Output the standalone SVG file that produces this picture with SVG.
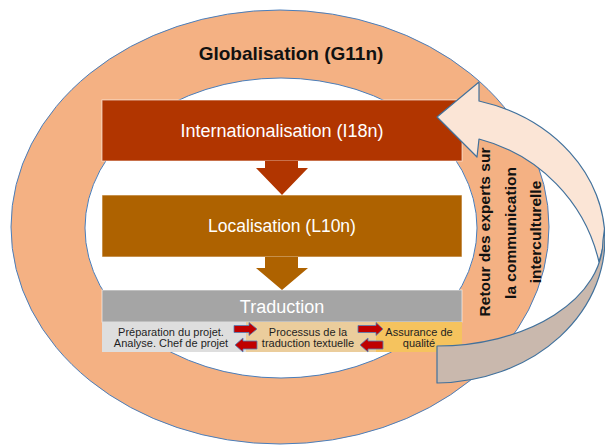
<svg xmlns="http://www.w3.org/2000/svg" width="605" height="445" viewBox="0 0 605 445">
<defs>
<style>
.ring{fill:#F4B183;stroke:#4A7EBB;stroke-width:1}
.hole{fill:#FFFFFF;stroke:#4A7EBB;stroke-width:1}
.box{stroke:#FFFFFF;stroke-opacity:0.6;stroke-width:1}
.wt{font-family:"Liberation Sans",Arial,sans-serif;fill:#FFFFFF;text-anchor:middle}
.st{font-family:"Liberation Sans",Arial,sans-serif;font-size:11px;fill:#1E1E1E;text-anchor:middle}
.bt{font-family:"Liberation Sans",Arial,sans-serif;font-weight:bold;fill:#111111;text-anchor:middle}
.red{fill:#C00000;stroke:#4F81BD;stroke-width:0.8}
.fb{stroke:#41719C;stroke-width:1.2;stroke-linejoin:round}
</style>
</defs>
<rect width="605" height="445" fill="#FFFFFF"/>
<g id="globalisation">
<ellipse class="ring" cx="280" cy="227" rx="269" ry="217"/>
<ellipse class="hole" cx="281" cy="228" rx="196" ry="150"/>
<text class="bt" x="291" y="60" font-size="19">Globalisation (G11n)</text>
</g>
<g id="internationalisation">
<rect class="box" x="102" y="100" width="360" height="61" fill="#B13500"/>
<text class="wt" x="282" y="136.5" font-size="18">Internationalisation (I18n)</text>
</g>
<g id="localisation">
<rect class="box" x="102" y="195" width="360" height="62" fill="#AE6200"/>
<text class="wt" x="282" y="232" font-size="17.5">Localisation (L10n)</text>
</g>
<g id="traduction">
<rect class="box" x="102" y="290" width="360" height="32" fill="#A5A5A5"/>
<text class="wt" x="282" y="313" font-size="18">Traduction</text>
</g>
<g id="preparation">
<rect x="102" y="322" width="144" height="30" fill="#DEDEDE"/>
<text class="st" x="171" y="335.5">Préparation du projet.</text>
<text class="st" x="171" y="346.5">Analyse. Chef de projet</text>
</g>
<g id="processus">
<rect x="246" y="322" width="130" height="30" fill="#EBCD9C"/>
<text class="st" x="308" y="335.5">Processus de la</text>
<text class="st" x="308" y="346.5">traduction textuelle</text>
</g>
<g id="assurance">
<rect x="376" y="322" width="86" height="30" fill="#F5C35E"/>
<text class="st" x="419" y="335.5">Assurance de</text>
<text class="st" x="419" y="346.5">qualité</text>
</g>
<g id="connectors">
<path d="M265,161 H298 V168 H308 L282,195 L256,168 H265 Z" fill="#B13500"/>
<path d="M265,257 H298 V268 H308 L282,290 L256,268 H265 Z" fill="#AE6200"/>
<path class="red" d="M234,325.5 H249 V322.5 L257,329 L249,335.5 V332.5 H234 Z"/>
<path class="red" d="M257,341 H243 V338 L235,345 L243,352 V349 H257 Z"/>
<path class="red" d="M358,325.5 H376 V322.5 L383,329 L376,335.5 V332.5 H358 Z"/>
<path class="red" d="M383,341 H368 V338 L360,345 L368,352 V349 H383 Z"/>
<path class="fb" fill="#FBE5D6" d="M479,101 L479,82 L437,117 L477,157 L479,139 A166,165 0 0 1 599,262 L605,240 A170,144 0 0 0 479,101 Z"/>
<path class="fb" fill="#C9B8AD" d="M604.5,229 A170,144 0 0 1 437,383 L437,346 A166,106 0 0 0 603,240 Z"/>
</g>
<g id="retour">
<text class="bt" font-size="15.5" transform="translate(490,232) rotate(-90)" x="0" y="0">Retour des experts sur</text>
<text class="bt" font-size="15.5" transform="translate(516,233) rotate(-90)" x="0" y="0">la communication</text>
<text class="bt" font-size="15.5" transform="translate(541,232) rotate(-90)" x="0" y="0">interculturelle</text>
</g>
</svg>
